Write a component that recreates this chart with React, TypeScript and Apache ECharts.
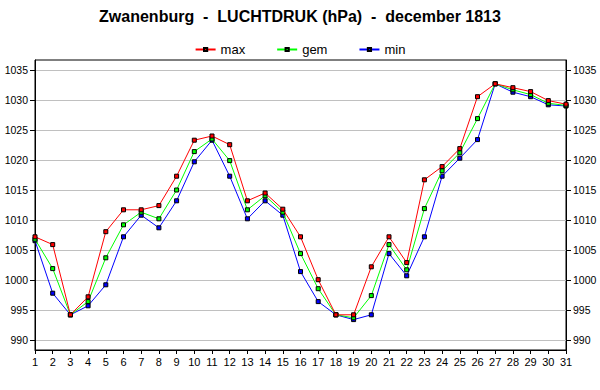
import React, { useEffect, useRef } from "react";
import * as echarts from "echarts";

const days = Array.from({ length: 31 }, (_, i) => String(i + 1));
const yTicks = [990, 995, 1000, 1005, 1010, 1015, 1020, 1025, 1030, 1035];

const maxValues = [1007.2, 1005.9, 994.2, 997.2, 1008.05, 1011.7, 1011.7, 1012.4, 1017.3, 1023.3, 1024.0, 1022.55, 1013.2, 1014.5, 1011.8, 1007.2, 1000.05, 994.2, 994.2, 1002.2, 1007.2, 1002.9, 1016.7, 1018.9, 1021.9, 1030.55, 1032.7, 1032.05, 1031.4, 1029.9, 1029.3];
const gemValues = [1006.8, 1001.9, 994.2, 996.4, 1003.7, 1009.2, 1011.3, 1010.2, 1015.0, 1021.4, 1023.5, 1019.9, 1011.7, 1014.05, 1011.3, 1004.4, 998.55, 994.2, 993.7, 997.4, 1005.9, 1001.7, 1011.9, 1018.2, 1021.2, 1026.9, 1032.7, 1031.7, 1030.9, 1029.45, 1029.1];
const minValues = [1006.55, 997.8, 994.2, 995.7, 999.2, 1007.2, 1010.8, 1008.7, 1013.2, 1019.7, 1023.3, 1017.3, 1010.2, 1013.2, 1010.8, 1001.4, 996.4, 994.2, 993.4, 994.2, 1004.4, 1000.7, 1007.2, 1017.3, 1020.3, 1023.4, 1032.7, 1031.3, 1030.55, 1029.2, 1029.0];

const FONT = "Arial, 'Liberation Sans', sans-serif";

export default function App() {
  const ref = useRef<HTMLDivElement>(null);
  useEffect(() => {
    if (!ref.current) return;
    const chart = echarts.init(ref.current, undefined, { renderer: "svg" });
    const yAxisBase = (position: "left" | "right", split: boolean) => ({
      type: "value" as const,
      position,
      min: 988.3333,
      max: 1036.6667,
      axisLine: { show: true, lineStyle: { color: "#000", width: 1 } },
      axisTick: { show: true, length: 5, customValues: yTicks, lineStyle: { color: "#000" } },
      axisLabel: {
        customValues: yTicks,
        color: "#000",
        fontSize: 10.5,
        fontFamily: FONT,
        margin: 7,
        hideOverlap: false,
        formatter: (v: number) => String(Math.round(v)),
      },
      splitLine: { show: split, lineStyle: { color: "#c0c0c0", width: 1 } },
    });
    const mk = (name: string, color: string, data: number[], z: number) => ({
      name,
      type: "line" as const,
      data,
      z,
      symbol: "rect",
      symbolSize: 4,
      showSymbol: true,
      lineStyle: { color, width: 1 },
      itemStyle: { color, borderColor: "#000", borderWidth: 1 },
      emphasis: { disabled: true },
    });
    chart.setOption({
      animation: false,
      backgroundColor: "#fff",
      textStyle: { fontFamily: FONT },
      title: {
        text: "Zwanenburg  -  LUCHTDRUK (hPa)  -  december 1813",
        left: "center",
        top: 3,
        textStyle: { fontFamily: FONT, fontSize: 16, fontWeight: "bold", color: "#000" },
      },
      legend: {
        data: ["max", "gem", "min"],
        top: 38,
        left: "center",
        itemWidth: 20,
        itemHeight: 4,
        itemGap: 31,
        textStyle: { fontFamily: FONT, fontSize: 13, color: "#000" },
      },
      grid: {
        left: 35,
        right: 34,
        top: 60,
        bottom: 40,
        show: true,
        borderColor: "#000",
        borderWidth: 1,
        backgroundColor: "transparent",
      },
      xAxis: {
        type: "category",
        data: days,
        boundaryGap: false,
        axisLine: { lineStyle: { color: "#000" } },
        axisTick: { show: true, length: 4, interval: 0, lineStyle: { color: "#000" } },
        axisLabel: { interval: 0, color: "#000", fontSize: 11, fontFamily: FONT, margin: 6, hideOverlap: false },
        splitLine: { show: false },
      },
      yAxis: [yAxisBase("left", true), yAxisBase("right", false)],
      series: [
        mk("min", "#0000ff", minValues, 2),
        mk("gem", "#00ff00", gemValues, 3),
        mk("max", "#ff0000", maxValues, 4),
      ],
    });
    return () => chart.dispose();
  }, []);
  return <div ref={ref} style={{ position: "absolute", left: 0, top: 0, width: 600, height: 390 }} />;
}
